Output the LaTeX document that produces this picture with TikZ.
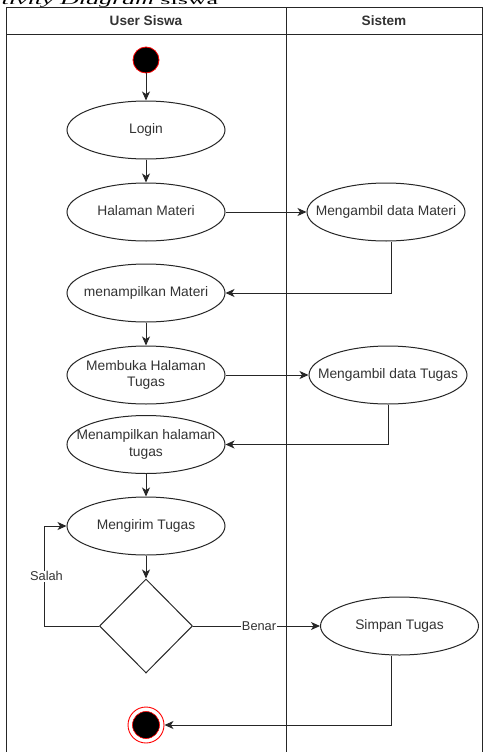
\documentclass[tikz,border=0pt]{standalone}
\usepackage{fontspec}
\setmainfont{Liberation Sans}
\newfontfamily\captfont{Liberation Serif}
\usetikzlibrary{shapes.geometric,arrows.meta}

% text of an activity, kept out of the ellipse's size
\newcommand\acttext[1]{\makebox[0pt]{\begin{tabular}{@{}c@{}}#1\end{tabular}}}

\tikzset{
  lane/.style={draw=black!85, line width=0.9pt},
  activity/.style={ellipse, draw=black!85, line width=1pt, fill=white,
    minimum width=158pt, minimum height=58pt, inner sep=0pt,
    font=\fontsize{13.8}{16.5}\selectfont, text=black!80},
  decision/.style={diamond, draw=black!85, line width=1pt, fill=white,
    minimum width=93pt, minimum height=94pt, inner sep=0pt},
  startstate/.style={circle, fill=black, draw=red, line width=0.8pt,
    minimum size=26pt, inner sep=0pt},
  endring/.style={circle, fill=white, draw=red, line width=0.9pt,
    minimum size=36pt, inner sep=0pt},
  enddot/.style={circle, fill=black, draw=red, line width=0.6pt,
    minimum size=27pt, inner sep=0pt},
  flow/.style={draw=black!85, line width=1pt,
    -{Stealth[length=9pt, width=8pt, inset=2.5pt]}},
  guard/.style={fill=white, inner sep=0.8pt, text=black!80,
    font=\fontsize{12.8}{14}\selectfont},
  header/.style={font=\fontsize{13.6}{15}\selectfont\bfseries, text=black!80},
}

\begin{document}
\begin{tikzpicture}[x=1pt, y=-1pt]
\useasboundingbox (0,0) rectangle (483,752);
\clip (0,0) rectangle (483,752);

% caption above the swimlanes
\node[anchor=base west, inner sep=0pt, font=\captfont\fontsize{26}{30}\selectfont]
  (caption) at (-26,4.5) {\scalebox{1}[0.5]{\textit{Activity Diagram} siswa}};

% swimlanes
\draw[lane] (6,760) -- (6,7.8) -- (482,7.8) -- (482,760);
\draw[lane] (6,34) -- (482,34);
\draw[lane] (286,7.8) -- (286,760);
\node[header] (laneuser) at (146,21) {User Siswa};
\node[header] (lanesys) at (384,21) {Sistem};

% activities
\node[startstate] (start) at (146,60) {};
\node[activity] (login) at (146,130) {\acttext{Login}};
\node[activity] (hm) at (146,212) {\acttext{Halaman Materi}};
\node[activity] (mdm) at (386,212) {\acttext{Mengambil data Materi}};
\node[activity] (tm) at (146,293) {\acttext{menampilkan Materi}};
\node[activity] (bht) at (146,375) {\acttext{Membuka Halaman\\Tugas}};
\node[activity] (mdt) at (388,375) {\acttext{Mengambil data Tugas}};
\node[activity] (mht) at (146,444.5) {\acttext{Menampilkan halaman\\tugas}};
\node[activity] (kirim) at (146,526) {\acttext{Mengirim Tugas}};
\node[decision] (dec) at (146,626) {};
\node[activity] (simpan) at (399.5,626) {\acttext{Simpan Tugas}};
\node[endring] (end) at (146,725) {};
\node[enddot] (enddot) at (146,725) {};

% control flow
\draw[flow] (start) -- (login);
\draw[flow] (login) -- (hm);
\draw[flow] (hm.east) -- (mdm.west);
\draw[flow] ([xshift=5pt]mdm.south) |- (tm.east);
\draw[flow] (tm) -- (bht);
\draw[flow] (bht.east) -- (mdt.west);
\draw[flow] (mdt.south) |- (mht.east);
\draw[flow] (mht) -- (kirim);
\draw[flow] (kirim) -- (dec);
\draw[flow] (dec.west) -- ++(-55,0) |- (kirim.west)
  node[guard, pos=0.25, xshift=2.5pt] (salah) {Salah};
\draw[flow] (dec.east) -- (simpan.west)
  node[guard, pos=0.52] (benar) {Benar};
\draw[flow] ([xshift=-8.5pt]simpan.south) |- (end.east);
\end{tikzpicture}
\end{document}
